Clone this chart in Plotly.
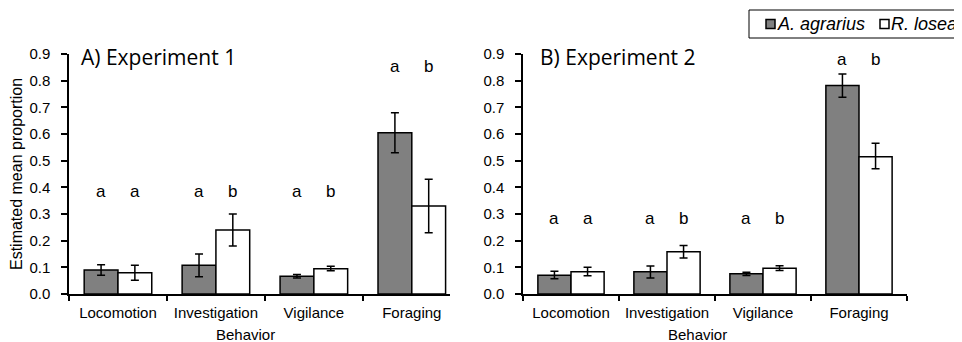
import plotly.graph_objects as go

behaviors = ["Locomotion", "Investigation", "Vigilance", "Foraging"]
species = ["A. agrarius", "R. losea"]
x_title = "Behavior"
y_title = "Estimated mean proportion"

# Experiment 1
exp1_agr = [0.090, 0.108, 0.067, 0.605]
exp1_agr_hi = [0.110, 0.150, 0.073, 0.680]
exp1_agr_lo = [0.070, 0.065, 0.060, 0.530]
exp1_los = [0.080, 0.240, 0.095, 0.330]
exp1_los_hi = [0.108, 0.300, 0.104, 0.430]
exp1_los_lo = [0.052, 0.180, 0.087, 0.230]
exp1_letters_agr = ["a", "a", "a", "a"]
exp1_letters_los = ["a", "b", "b", "b"]

# Experiment 2
exp2_agr = [0.070, 0.083, 0.076, 0.782]
exp2_agr_hi = [0.085, 0.105, 0.082, 0.825]
exp2_agr_lo = [0.057, 0.060, 0.069, 0.738]
exp2_los = [0.083, 0.158, 0.097, 0.515]
exp2_los_hi = [0.100, 0.182, 0.106, 0.565]
exp2_los_lo = [0.068, 0.135, 0.088, 0.470]
exp2_letters_agr = ["a", "a", "a", "a"]
exp2_letters_los = ["a", "b", "b", "b"]

letter_y_exp1 = [0.385, 0.385, 0.385, 0.855]
letter_y_exp2 = [0.285, 0.285, 0.285, 0.88]

DARK = "#808080"
COLORS = [DARK, "white"]
BARGAP = 0.31
OFF = (1 - BARGAP) / 4

# page body adds an 8px offset; figure is sized to the remaining viewport
PAD = 8
W, H = 962 - PAD, 342 - PAD
TOP_PX, BOT_PX = 54, 294          # window pixel rows of y=0.9 and y=0
MT, MB = TOP_PX - PAD, H - (BOT_PX - PAD)
PH = H - MT - MB


def px_x(p):
    return (p - PAD) / W


def px_y(p):
    return (H - MB - (p - PAD)) / PH


fig = go.Figure()


def add_panel(xa, ya, agr, agr_hi, agr_lo, los, los_hi, los_lo):
    for name, vals, hi, lo, col in [
        (species[0], agr, agr_hi, agr_lo, COLORS[0]),
        (species[1], los, los_hi, los_lo, COLORS[1]),
    ]:
        fig.add_trace(go.Bar(
            x=behaviors, y=vals, name=name,
            marker=dict(color=col, line=dict(color="black", width=1.5)),
            error_y=dict(type="data", symmetric=False,
                         array=[h - v for h, v in zip(hi, vals)],
                         arrayminus=[v - l for v, l in zip(vals, lo)],
                         color="black", thickness=1.5, width=4),
            xaxis=xa, yaxis=ya, showlegend=False,
        ))


add_panel("x", "y", exp1_agr, exp1_agr_hi, exp1_agr_lo, exp1_los, exp1_los_hi, exp1_los_lo)
add_panel("x2", "y2", exp2_agr, exp2_agr_hi, exp2_agr_lo, exp2_los, exp2_los_hi, exp2_los_lo)

annots = []
for xr, la, lb, ly in [("x", exp1_letters_agr, exp1_letters_los, letter_y_exp1),
                       ("x2", exp2_letters_agr, exp2_letters_los, letter_y_exp2)]:
    yr = "y" if xr == "x" else "y2"
    for i in range(len(behaviors)):
        annots.append(dict(x=i - OFF, y=ly[i], xref=xr, yref=yr, text=la[i],
                           showarrow=False, font=dict(size=17, color="black")))
        annots.append(dict(x=i + OFF, y=ly[i], xref=xr, yref=yr, text=lb[i],
                           showarrow=False, font=dict(size=17, color="black")))

annots.append(dict(x=px_x(79), y=px_y(57), xref="paper", yref="paper", text="A) Experiment 1",
                   showarrow=False, xanchor="left", yanchor="middle",
                   font=dict(size=21, family="Open Sans", color="black")))
annots.append(dict(x=px_x(538), y=px_y(57), xref="paper", yref="paper", text="B) Experiment 2",
                   showarrow=False, xanchor="left", yanchor="middle",
                   font=dict(size=21, family="Open Sans", color="black")))

# x-axis titles (offset left of the panel centre, as in the original)
for cx in (245, 697):
    annots.append(dict(x=px_x(cx), y=px_y(334), xref="paper", yref="paper", text=x_title,
                       showarrow=False, xanchor="center", yanchor="middle",
                       font=dict(size=15, color="black")))

# legend (box, swatches, italic labels)
shapes = [dict(type="rect", xref="paper", yref="paper",
               x0=px_x(749), x1=px_x(961.5), y0=px_y(38), y1=px_y(10),
               line=dict(color="black", width=1), fillcolor="white")]
sw_x = [766, 880]
for k, name in enumerate(species):
    shapes.append(dict(type="rect", xref="paper", yref="paper",
                       x0=px_x(sw_x[k]), x1=px_x(sw_x[k] + 9), y0=px_y(28.5), y1=px_y(19.5),
                       line=dict(color="black", width=1.5), fillcolor=COLORS[k]))
    annots.append(dict(x=px_x(sw_x[k] + 9), y=px_y(24), xref="paper", yref="paper",
                       text="<i>%s</i>" % name, showarrow=False, xanchor="left", yanchor="middle",
                       font=dict(size=18, color="black")))

axis_common = dict(showline=True, linecolor="black", linewidth=1.5, ticks="outside",
                   tickcolor="black", tickwidth=1.5, showgrid=False, zeroline=False,
                   automargin=False, tickfont=dict(size=15, color="black"))

fig.update_layout(
    width=W, height=H,
    margin=dict(l=0, r=0, t=MT, b=MB, autoexpand=False),
    plot_bgcolor="white", paper_bgcolor="white",
    font=dict(family="Liberation Sans, Arial", color="black"),
    barmode="group", bargap=BARGAP, bargroupgap=0,
    showlegend=False,
    annotations=annots,
    shapes=shapes,
    xaxis=dict(domain=[px_x(69), px_x(450)], range=[-0.5, 3.39], tickson="boundaries", ticklen=5,
               ticklabelstandoff=4, **axis_common),
    yaxis=dict(range=[0, 0.9], dtick=0.1, tickformat=".1f", ticklen=6, ticklabelstandoff=8,
               title=dict(text=y_title, font=dict(size=16), standoff=3), **axis_common),
    xaxis2=dict(domain=[px_x(523), px_x(907)], anchor="y2", tickson="boundaries", ticklen=5,
                ticklabelstandoff=4, **axis_common),
    yaxis2=dict(range=[0, 0.9], dtick=0.1, tickformat=".1f", ticklen=6, ticklabelstandoff=8,
                anchor="x2", **axis_common),
)

fig.write_html("out.html")
